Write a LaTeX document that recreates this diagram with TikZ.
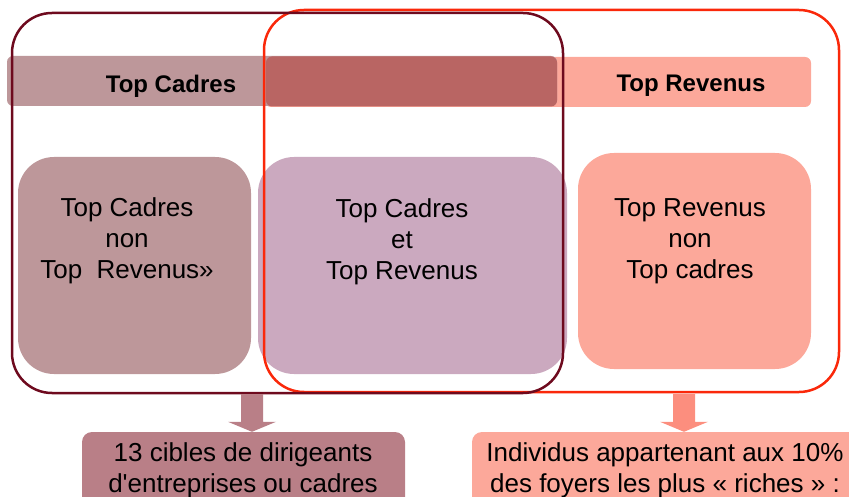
\documentclass[tikz,border=0pt]{standalone}
\usepackage{fontspec}
\setmainfont{Liberation Sans}
\usepackage{tikz}
\usetikzlibrary{positioning,calc}
\definecolor{cadline}{RGB}{110,10,30}
\definecolor{revline}{RGB}{250,40,10}
\definecolor{cadfill}{RGB}{189,151,154}
\definecolor{revfill}{RGB}{252,168,154}
\definecolor{bothband}{RGB}{185,101,99}
\definecolor{bothfill}{RGB}{203,169,191}
\definecolor{cadarrow}{RGB}{185,127,135}
\definecolor{revarrow}{RGB}{252,142,126}
\def\shaftw{11pt}
\def\headw{24pt}
\def\headl{10pt}
\newcommand\blkarrow[3]{%
  \fill[#3] let \p1=(#1), \p2=(#2) in
    (\x1-\shaftw,\y1) -- (\x1+\shaftw,\y1) -- (\x1+\shaftw,\y2+\headl) -- (\x1+\headw,\y2+\headl)
    -- (\x1,\y2) -- (\x1-\headw,\y2+\headl) -- (\x1-\shaftw,\y2+\headl) -- cycle;
}

\begin{document}
\begin{tikzpicture}
[x=1pt, y=-1pt,
 band/.style={rectangle, rounded corners=6pt, inner sep=0, minimum height=50pt},
 bandtext/.style={font=\fontsize{24}{28}\selectfont\bfseries},
 part/.style={rectangle, rounded corners=36pt, inner sep=0},
 parttext/.style={align=center, font=\fontsize{26}{31}\selectfont},
 set/.style={rectangle, rounded corners=40pt, line width=2.5pt, inner sep=0},
 target/.style={rectangle, rounded corners=10pt, inner sep=0, minimum height=80pt}]
\useasboundingbox (0,0) rectangle (849,497);
\clip (0,0) rectangle (849,497);
% bands
\node [band, fill=revfill, minimum width=546pt] (revband) at (538,82) {};
\node [band, fill=cadfill, minimum width=550pt] (cadband) at (282,81) {};
\node [band, fill=bothband, minimum width=291pt] (bothbd) at (411.5,81.5) {};
\node [bandtext] (cadtitle) at (171,86.5) {Top Cadres};
\node [bandtext] (revtitle) at (691,85.5) {Top Revenus};
% parts
\node [part, fill=cadfill, minimum width=233pt, minimum height=217pt] (cadonly) at (134.5,265.5) {};
\node [part, fill=bothfill, minimum width=309pt, minimum height=217pt] (both) at (412.5,265.5) {};
\node [part, fill=revfill, minimum width=233pt, minimum height=216pt] (revonly) at (694.5,261) {};
\node [parttext] (cadonlyt) at (127,241) {Top Cadres\\non\\Top\ \ Revenus»};
\node [parttext] (botht) at (402,242) {Top Cadres\\et\\Top Revenus};
\node [parttext] (revonlyt) at (690,241) {Top Revenus\\non\\Top cadres};
% sets
\node [set, draw=revline, minimum width=575pt, minimum height=382pt] (revset) at (551.5,201) {};
\node [set, draw=cadline, minimum width=551pt, minimum height=380pt] (cadset) at (287.5,203) {};
% targets
\node [target, fill=cadarrow, minimum width=323pt] (cadtarget) at (243.5,472) {};
\node [target, fill=revfill, minimum width=386pt] (revtarget) at (665,472) {};
\node [parttext] (cadtargett) at (243,470) {13 cibles de dirigeants\\d\textquotesingle entreprises ou cadres};
\node [parttext] (revtargett) at (665,470) {Individus appartenant aux 10\%\\des foyers les plus « riches » :};
\coordinate (cadfrom) at (252,394);
\coordinate (revfrom) at (684,394);
\blkarrow{cadfrom}{cadfrom |- cadtarget.north}{cadarrow}
\blkarrow{revfrom}{revfrom |- revtarget.north}{revarrow}
\end{tikzpicture}
\end{document}
